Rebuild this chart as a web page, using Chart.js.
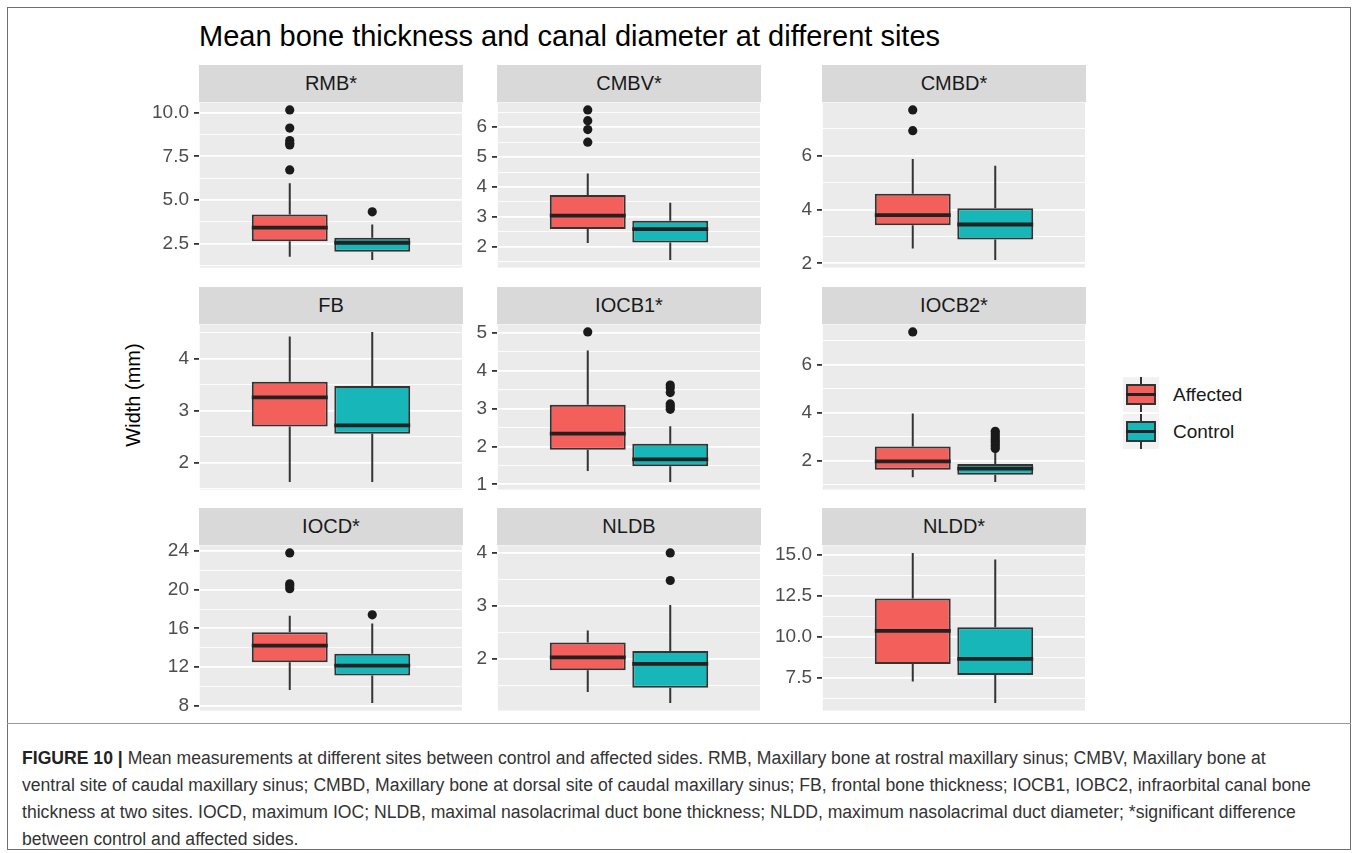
<!DOCTYPE html>
<html>
<head>
<meta charset="utf-8">
<script src="https://cdn.jsdelivr.net/npm/chart.js@4.4.0/dist/chart.umd.min.js"></script>
<style>
html,body{margin:0;padding:0;background:#ffffff;}
body{width:1357px;height:853px;position:relative;overflow:hidden;font-family:"Liberation Sans",Arial,Helvetica,sans-serif;}
.abs{position:absolute;}
#frame{left:7px;top:7px;width:1344px;height:843px;border:1px solid #707070;box-sizing:border-box;}
#sep{left:7px;top:723px;width:1344px;height:0;border-top:1px solid #9a9a9a;}
#title{left:199px;top:22px;font-size:29px;line-height:29px;color:#000;white-space:nowrap;}
#ytitle{left:133px;top:395px;font-size:20px;line-height:20px;color:#000;white-space:nowrap;transform:translate(-50%,-50%) rotate(-90deg);}
.strip{background:#D9D9D9;color:#1A1A1A;font-size:20px;display:flex;align-items:center;justify-content:center;}
.key{background:#F2F2F2;width:36px;height:35px;}
.kw{position:absolute;left:17px;top:0;width:2px;height:35px;background:#333;}
.kb{position:absolute;left:3px;top:7px;width:30px;height:21px;box-sizing:border-box;border:2px solid #333;}
.km{position:absolute;left:3px;top:15.5px;width:30px;height:3.6px;background:#222;}
.ktext{font-size:19px;line-height:19px;color:#1A1A1A;white-space:nowrap;}
#caption{left:22px;top:745px;font-size:17.6px;line-height:27px;color:#333;white-space:nowrap;}
#caption b{color:#222;}
</style>
</head>
<body>
<div id="frame" class="abs"></div>
<div id="sep" class="abs"></div>
<div id="title" class="abs">Mean bone thickness and canal diameter at different sites</div>
<div id="ytitle" class="abs">Width (mm)</div>
<div id="panels"></div>
<div id="legend"></div>
<div id="caption" class="abs"><b>FIGURE 10 |</b> Mean measurements at different sites between control and affected sides. RMB, Maxillary bone at rostral maxillary sinus; CMBV, Maxillary bone at<br>ventral site of caudal maxillary sinus; CMBD, Maxillary bone at dorsal site of caudal maxillary sinus; FB, frontal bone thickness; IOCB1, IOBC2, infraorbital canal bone<br>thickness at two sites. IOCD, maximum IOC; NLDB, maximal nasolacrimal duct bone thickness; NLDD, maximum nasolacrimal duct diameter; *significant difference<br>between control and affected sides.</div>
<script>
// ---------------- DATA ----------------
const sites = ['RMB*', 'CMBV*', 'CMBD*', 'FB', 'IOCB1*', 'IOCB2*', 'IOCD*', 'NLDB', 'NLDD*'];
const groups = ['Affected', 'Control'];

const affectedLow    = [1.76, 2.12, 2.55, 1.63, 1.35, 1.30, 9.64, 1.38, 7.26];
const affectedQ1     = [2.65, 2.59, 3.41, 2.70, 1.91, 1.61, 12.51, 1.79, 8.33];
const affectedMedian = [3.42, 3.04, 3.79, 3.26, 2.34, 1.96, 14.22, 2.03, 10.35];
const affectedQ3     = [4.18, 3.73, 4.58, 3.56, 3.10, 2.58, 15.59, 2.31, 12.32];
const affectedHigh   = [5.96, 4.45, 5.87, 4.43, 4.53, 3.96, 17.30, 2.54, 15.10];
const affectedOutliers = [
  [10.15, 9.11, 8.40, 8.25, 8.15, 6.72],
  [6.58, 6.22, 5.92, 5.50],
  [7.69, 6.92],
  [],
  [5.02],
  [7.36],
  [23.8, 20.6, 20.4, 20.1],
  [],
  []
];

const controlLow    = [1.57, 1.55, 2.12, 1.63, 1.06, 1.10, 8.28, 1.17, 5.94];
const controlQ1     = [2.04, 2.14, 2.88, 2.56, 1.48, 1.41, 11.14, 1.46, 7.66];
const controlMedian = [2.56, 2.59, 3.44, 2.72, 1.66, 1.66, 12.16, 1.91, 8.64];
const controlQ3     = [2.84, 2.87, 4.04, 3.48, 2.07, 1.85, 13.37, 2.15, 10.57];
const controlHigh   = [3.61, 3.47, 5.62, 4.52, 2.53, 2.35, 16.50, 3.02, 14.70];
const controlOutliers = [
  [4.33],
  [],
  [],
  [],
  [3.62, 3.55, 3.42, 3.12, 3.05, 2.98],
  [3.22, 3.12, 3.00, 2.90, 2.80, 2.70, 2.60, 2.50],
  [17.4],
  [4.00, 3.48],
  []
];

const yTickLabels = [
  ['2.5', '5.0', '7.5', '10.0'],
  ['2', '3', '4', '5', '6'],
  ['2', '4', '6'],
  ['2', '3', '4'],
  ['1', '2', '3', '4', '5'],
  ['2', '4', '6'],
  ['8', '12', '16', '20', '24'],
  ['2', '3', '4'],
  ['7.5', '10.0', '12.5', '15.0']
];

// ---------------- STYLE / LAYOUT ----------------
const FONT = '"Liberation Sans", Arial, Helvetica, sans-serif';
const FILL = ['#F35F5B', '#17B6B8'];
const DARK = '#333333';
const colLeft = [199, 497, 822];
const rowTop = [65, 287, 508];
const STRIP_H = 37, PLOT_H = 166, PLOT_W = 264, AXIS_W = 64, EXT = 16;
const X_MIN = 0.4, X_MAX = 1.6, CENTER = 1, DODGE = 0.1875, BOX_W = 0.345;

const panelBg = {
  id: 'panelBg',
  beforeDraw(chart) {
    const {ctx, chartArea: a} = chart;
    ctx.save();
    ctx.fillStyle = '#EBEBEB';
    ctx.fillRect(a.left, a.top, a.right - a.left, a.bottom - a.top);
    ctx.restore();
  }
};

function buildTicks(labels, lo, hi) {
  const majors = labels.map(Number);
  const step = majors[1] - majors[0];
  const out = majors.map(v => ({value: v, minor: false}));
  const mids = [];
  for (let k = -1; k < majors.length; k++) {
    const v = (k < 0 ? majors[0] - step : majors[k]) + step / 2;
    if (v >= lo && v <= hi) mids.push({value: v, minor: true});
  }
  return out.concat(mids).sort((a, b) => a.value - b.value);
}

const panelsEl = document.getElementById('panels');

sites.forEach((site, i) => {
  const r = Math.floor(i / 3), c = i % 3;
  const left = colLeft[c], top = rowTop[r];

  const strip = document.createElement('div');
  strip.className = 'abs strip';
  strip.style.left = left + 'px';
  strip.style.top = top + 'px';
  strip.style.width = PLOT_W + 'px';
  strip.style.height = STRIP_H + 'px';
  strip.textContent = site;
  panelsEl.appendChild(strip);

  const canvas = document.createElement('canvas');
  canvas.className = 'abs';
  canvas.width = PLOT_W + AXIS_W;
  canvas.height = PLOT_H + 2 * EXT;
  canvas.style.left = (left - AXIS_W) + 'px';
  canvas.style.top = (top + STRIP_H - EXT) + 'px';
  panelsEl.appendChild(canvas);

  const stats = [
    {low: affectedLow[i], q1: affectedQ1[i], med: affectedMedian[i], q3: affectedQ3[i], high: affectedHigh[i], out: affectedOutliers[i]},
    {low: controlLow[i], q1: controlQ1[i], med: controlMedian[i], q3: controlQ3[i], high: controlHigh[i], out: controlOutliers[i]}
  ];
  const xs = [CENTER - DODGE, CENTER + DODGE];
  const all = [];
  stats.forEach(s => { all.push(s.low, s.high, ...s.out); });
  const dmin = Math.min(...all), dmax = Math.max(...all);
  const pad = (dmax - dmin) * 0.05;
  const yMin = dmin - pad, yMax = dmax + pad;
  const tickObjs = buildTicks(yTickLabels[i], yMin, yMax);
  const labelMap = {};
  yTickLabels[i].forEach(l => { labelMap[Number(l)] = l; });

  const whiskers = [], boxes = [], medians = [], outliers = [];
  stats.forEach((s, g) => {
    const x = xs[g];
    whiskers.push({x, y: s.low}, {x, y: s.q1}, {x, y: null}, {x, y: s.q3}, {x, y: s.high}, {x, y: null});
    boxes.push({x, y: [s.q1, s.q3]});
    medians.push({x: x - BOX_W / 2, y: s.med}, {x: x + BOX_W / 2, y: s.med}, {x, y: null});
    s.out.forEach(v => outliers.push({x, y: v}));
  });

  new Chart(canvas, {
    type: 'bar',
    data: {
      datasets: [
        {type: 'line', data: whiskers, borderColor: DARK, borderWidth: 2, pointRadius: 0, spanGaps: false, order: 3},
        {type: 'bar', data: boxes, backgroundColor: FILL, borderColor: DARK, borderWidth: 2, borderSkipped: false,
         categoryPercentage: 1, barPercentage: BOX_W / (2 * DODGE), order: 2},
        {type: 'line', data: medians, borderColor: '#222222', borderWidth: 3.8, borderCapStyle: 'butt', pointRadius: 0, spanGaps: false, order: 1},
        {type: 'scatter', data: outliers, pointRadius: 4.6, pointBackgroundColor: '#1A1A1A', pointBorderWidth: 0, order: 0}
      ]
    },
    options: {
      responsive: false,
      animation: false,
      devicePixelRatio: 1,
      layout: {autoPadding: false, padding: {top: EXT, bottom: EXT, left: 0, right: 0}},
      plugins: {legend: {display: false}, tooltip: {enabled: false}, title: {display: false}},
      events: [],
      scales: {
        x: {
          type: 'linear', min: X_MIN, max: X_MAX, offset: false,
          afterBuildTicks: s => { s.ticks = [{value: CENTER}]; },
          afterFit: s => { s.height = 0; },
          ticks: {display: false},
          grid: {color: '#FFFFFF', lineWidth: 1.8, drawTicks: false},
          border: {display: false}
        },
        y: {
          type: 'linear', min: yMin, max: yMax, position: 'left',
          afterBuildTicks: s => { s.ticks = tickObjs.map(t => ({value: t.value, minor: t.minor})); },
          afterFit: s => { s.width = AXIS_W; },
          ticks: {
            autoSkip: false, color: '#4D4D4D', padding: 5,
            font: {size: 19, family: FONT},
            callback: (v, idx, ticks) => ticks[idx].minor ? '' : labelMap[v]
          },
          grid: {
            color: '#FFFFFF',
            lineWidth: ctx => (ctx.tick && ctx.tick.minor) ? 0.9 : 1.8,
            tickColor: ctx => (ctx.tick && ctx.tick.minor) ? 'rgba(0,0,0,0)' : DARK,
            tickLength: 5, tickWidth: 1.8, drawTicks: true
          },
          border: {display: false}
        }
      }
    },
    plugins: [panelBg]
  });
});

// ---------------- LEGEND ----------------
const legendEl = document.getElementById('legend');
const keyTops = [377, 414];
groups.forEach((g, k) => {
  const key = document.createElement('div');
  key.className = 'abs key';
  key.style.left = '1123px';
  key.style.top = keyTops[k] + 'px';
  key.innerHTML = '<div class="kw"></div><div class="kb" style="background:' + FILL[k] + '"></div><div class="km"></div>';
  legendEl.appendChild(key);
  const t = document.createElement('div');
  t.className = 'abs ktext';
  t.style.left = '1173px';
  t.style.top = (keyTops[k] + 8) + 'px';
  t.textContent = g;
  legendEl.appendChild(t);
});
</script>
</body>
</html>
